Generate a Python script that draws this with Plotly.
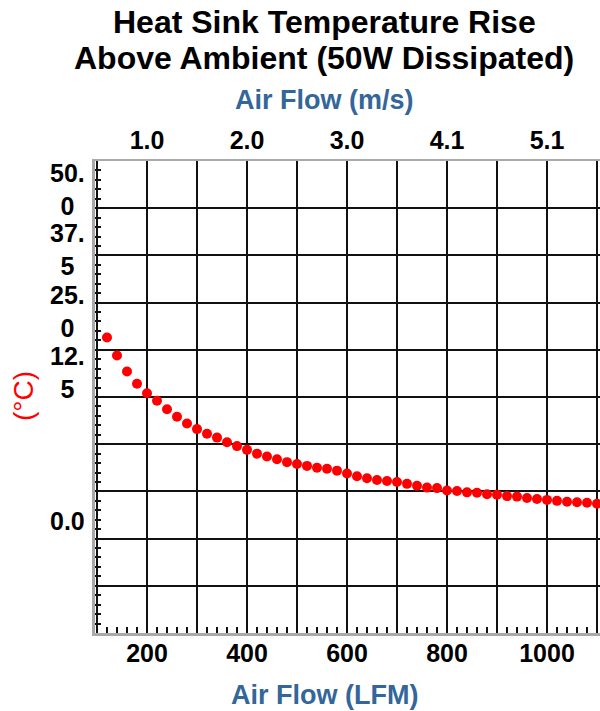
import plotly.graph_objects as go

# ---- data ----
air_flow_lfm = [120, 140, 160, 180, 200, 220, 240, 260, 280, 300,
                320, 340, 360, 380, 400, 420, 440, 460, 480, 500,
                520, 540, 560, 580, 600, 620, 640, 660, 680, 700,
                720, 740, 760, 780, 800, 820, 840, 860, 880, 900,
                920, 940, 960, 980, 1000, 1020, 1040, 1060, 1080, 1100]
temp_rise_c = [31.3, 29.4, 27.7, 26.4, 25.4, 24.6, 23.7, 22.9, 22.2, 21.6,
               21.1, 20.7, 20.2, 19.8, 19.4, 19.0, 18.7, 18.4, 18.1, 17.9,
               17.7, 17.5, 17.4, 17.2, 16.9, 16.6, 16.4, 16.2, 16.1, 16.0,
               15.8, 15.6, 15.4, 15.35, 15.1, 15.05, 14.9, 14.85, 14.7, 14.65,
               14.5, 14.45, 14.3, 14.2, 14.1, 14.0, 13.9, 13.85, 13.8, 13.7]

lfm_grid = [100, 200, 300, 400, 500, 600, 700, 800, 900, 1000, 1100]
lfm_labels = ["", "200", "", "400", "", "600", "", "800", "", "1000", ""]
mps_tickvals = [200, 400, 600, 800, 1000]
mps_labels = ["1.0", "2.0", "3.0", "4.1", "5.1"]
y_labels = ["50.<br>0", "37.<br>5", "25.<br>0", "12.<br>5", "0.0"]
y_label_at = [47.0, 40.6, 34.1, 27.6, 11.9]

# ---- layout geometry (pixels) ----
W, H = 600, 711
L, R, T, B = 95, 600, 161, 633


def xp(px):
    return (px - L) / (R - L)


def yp(py):
    return (B - py) / (B - T)


FONT = "Liberation Sans, Arial, sans-serif"
BLUE = "#336699"
FRAME = "#a9a9a9"
X_RANGE = [96, 1106]

fig = go.Figure()
fig.add_trace(go.Scatter(
    x=air_flow_lfm, y=temp_rise_c, mode="markers",
    marker=dict(color="#ff0000", size=10, line=dict(width=0)),
    showlegend=False, hoverinfo="x+y"))
# carrier for the top (m/s) axis
fig.add_trace(go.Scatter(
    x=air_flow_lfm, y=temp_rise_c, xaxis="x2", mode="markers",
    marker=dict(opacity=0), showlegend=False, hoverinfo="skip"))

fig.update_layout(
    width=W, height=H,
    margin=dict(l=L, r=W - R, t=T, b=H - B, pad=0),
    paper_bgcolor="white", plot_bgcolor="white",
    font=dict(family=FONT, color="black"),
    xaxis=dict(
        range=X_RANGE, tickmode="array", tickvals=lfm_grid, ticktext=lfm_labels,
        ticks="", showgrid=True, gridcolor="#111111", gridwidth=2,
        zeroline=False, showline=True, linecolor=FRAME, linewidth=3,
        tickfont=dict(size=25, family=FONT, weight="bold", color="black"),
        ticklabelstandoff=-4,
        minor=dict(dtick=20, ticks="inside", ticklen=6, tickwidth=2,
                   tickcolor="#111111", showgrid=False),
        fixedrange=True,
    ),
    xaxis2=dict(
        range=X_RANGE, overlaying="x", side="top", anchor="y",
        tickmode="array", tickvals=mps_tickvals, ticktext=mps_labels,
        ticks="", showgrid=False, zeroline=False,
        showline=True, linecolor=FRAME, linewidth=2,
        tickfont=dict(size=25, family=FONT, weight="bold", color="black"),
        fixedrange=True,
    ),
    yaxis=dict(
        range=[0, 50], tickmode="linear", tick0=0, dtick=5,
        showticklabels=False, ticks="",
        showgrid=True, gridcolor="#111111", gridwidth=2, zeroline=False,
        showline=True, linecolor=FRAME, linewidth=3,
        minor=dict(dtick=1, ticks="inside", ticklen=6, tickwidth=2,
                   tickcolor="#111111", showgrid=False),
        fixedrange=True,
    ),
)

ann = []
ann.append(dict(text="Heat Sink Temperature Rise", x=xp(324), y=yp(22)))
ann.append(dict(text="Above Ambient (50W Dissipated)", x=xp(324), y=yp(58)))
for a in ann:
    a.update(xref="paper", yref="paper", showarrow=False, xanchor="center",
             yanchor="middle",
             font=dict(size=32, family=FONT, weight="bold", color="black"))
for txt, py in (("Air Flow (m/s)", 100), ("Air Flow (LFM)", 695)):
    ann.append(dict(text=txt, x=xp(324), y=yp(py), xref="paper", yref="paper",
                    showarrow=False, xanchor="center", yanchor="middle",
                    font=dict(size=27, family=FONT, weight="bold", color=BLUE)))
ann.append(dict(text="(°C)", x=xp(23), y=yp(396), xref="paper", yref="paper",
                showarrow=False, textangle=-90, xanchor="center",
                yanchor="middle",
                font=dict(size=28, family=FONT, color="#ff0000")))
for txt, v in zip(y_labels, y_label_at):
    ann.append(dict(text=txt, x=xp(67), y=v, xref="paper", yref="y",
                    showarrow=False, xanchor="center", yanchor="middle",
                    align="center",
                    font=dict(size=25, family=FONT, weight="bold",
                              color="black")))
fig.update_layout(annotations=ann)

fig.write_html(
    "out.html",
    config={"displayModeBar": False, "staticPlot": False},
    post_script="document.body.style.margin='0';"
                "document.body.style.overflow='hidden';")
